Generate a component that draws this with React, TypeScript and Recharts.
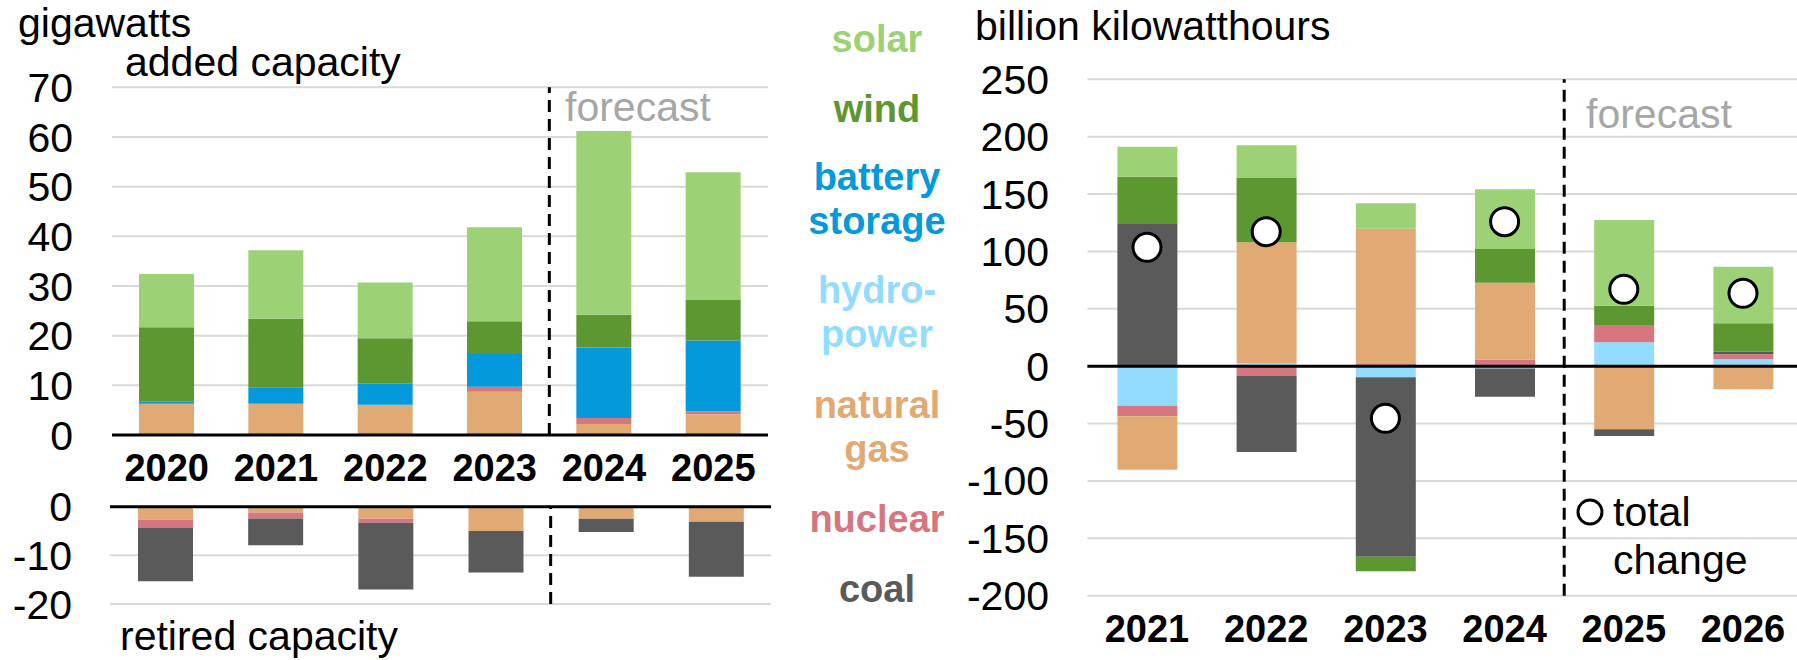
import React from 'react';
import { BarChart, Bar, XAxis, YAxis, CartesianGrid, ReferenceLine, ComposedChart, Line } from 'recharts';

// left panel: capacity, gigawatts
const capYears = ['2020', '2021', '2022', '2023', '2024', '2025'];
const gasAdded = [6.3, 6.3, 6.1, 8.7, 2.2, 4.2];
const nuclearAdded = [0, 0, 0, 1.0, 1.2, 0.6];
const batteryAdded = [0.5, 3.3, 4.2, 6.6, 14.2, 14.2];
const windAdded = [14.9, 13.8, 9.2, 6.6, 6.6, 8.2];
const solarAdded = [10.7, 13.8, 11.2, 18.9, 37.0, 25.7];

const gasRetired = [-2.7, -1.2, -2.5, -5.0, -2.5, -3.1];
const nuclearRetired = [-1.6, -1.2, -0.8, 0, 0, 0];
const coalRetired = [-11.0, -5.5, -13.7, -8.5, -2.7, -11.3];

const addedTicks = [0, 10, 20, 30, 40, 50, 60, 70];
const retiredTicks = [-20, -10, 0];

// right panel: generation, billion kWh
const genYears = ['2021', '2022', '2023', '2024', '2025', '2026'];
const hydroGen = [-34.4, 2.6, -9.6, -2.0, 20.8, 6.0];
const nuclearGen = [-9.3, -8.5, 2.6, 5.8, 14.5, 4.4];
const gasGen = [-46.5, 105.5, 117.2, 67.0, -55.0, -20.1];
const coalGen = [123.9, -66.3, -156.4, -24.6, -5.8, 2.2];
const windGen = [41.2, 55.8, -12.7, 29.3, 17.4, 24.8];
const solarGen = [26.2, 28.7, 22.1, 52.0, 74.7, 49.3];
const totalGen = [103.6, 117.2, -45.4, 125.9, 67.0, 63.5];

const genTicks = [-200, -150, -100, -50, 0, 50, 100, 150, 200, 250];

const C = {
  solar: '#9dd176',
  wind: '#5d9732',
  battery: '#0399da',
  hydro: '#93dcff',
  gas: '#e1aa74',
  nuclear: '#d6767f',
  coal: '#5a5a5a',
  grid: '#d9d9d9',
  forecast: '#a6a6a6',
};
const FONT = '"Liberation Sans", Arial, Helvetica, sans-serif';

const addedData = capYears.map((year, i) => ({
  year,
  gas: gasAdded[i],
  nuclear: nuclearAdded[i],
  battery: batteryAdded[i],
  wind: windAdded[i],
  solar: solarAdded[i],
}));

const retiredData = capYears.map((year, i) => ({
  year,
  gas: gasRetired[i],
  nuclear: nuclearRetired[i],
  coal: coalRetired[i],
}));

const genData = genYears.map((year, i) => ({
  year,
  hydro: hydroGen[i],
  nuclear: nuclearGen[i],
  gas: gasGen[i],
  coal: coalGen[i],
  wind: windGen[i],
  solar: solarGen[i],
  total: totalGen[i],
}));

const tickFont = { fontSize: 41, fill: '#000', fontFamily: FONT };
const yearFont = { fontSize: 38, fontWeight: 700, fill: '#000', fontFamily: FONT };

const legendItems = [
  { lines: ['solar'], color: C.solar, y: 52 },
  { lines: ['wind'], color: C.wind, y: 122 },
  { lines: ['battery', 'storage'], color: C.battery, y: 190 },
  { lines: ['hydro-', 'power'], color: C.hydro, y: 303 },
  { lines: ['natural', 'gas'], color: C.gas, y: 418 },
  { lines: ['nuclear'], color: C.nuclear, y: 532 },
  { lines: ['coal'], color: C.coal, y: 602 },
];

export default function App() {
  return (
    <div
      style={{
        position: 'absolute',
        left: 0,
        top: 0,
        width: 1797,
        height: 660,
        overflow: 'hidden',
        background: '#fff',
        fontFamily: FONT,
      }}
    >
      {/* added capacity */}
      <div style={{ position: 'absolute', left: 0, top: 0 }}>
        <BarChart
          width={800}
          height={500}
          data={addedData}
          stackOffset="sign"
          barSize={55}
          margin={{ top: 87.3, right: 32, bottom: 5, left: 0 }}
        >
          <CartesianGrid vertical={false} stroke={C.grid} strokeWidth={2} />
          <XAxis
            dataKey="year"
            height={60}
            axisLine={false}
            tickLine={false}
            tickSize={0}
            tickMargin={19}
            tick={yearFont}
            interval={0}
          />
          <YAxis
            width={112}
            domain={[0, 70]}
            ticks={addedTicks}
            interval={0}
            axisLine={false}
            tickLine={false}
            tickSize={0}
            tickMargin={39}
            tick={tickFont}
          />
          <Bar dataKey="gas" stackId="a" fill={C.gas} isAnimationActive={false} />
          <Bar dataKey="nuclear" stackId="a" fill={C.nuclear} isAnimationActive={false} />
          <Bar dataKey="battery" stackId="a" fill={C.battery} isAnimationActive={false} />
          <Bar dataKey="wind" stackId="a" fill={C.wind} isAnimationActive={false} />
          <Bar dataKey="solar" stackId="a" fill={C.solar} isAnimationActive={false} />
          <ReferenceLine y={0} stroke="#000" strokeWidth={3} />
          <ReferenceLine x="2024" position="start" stroke="#000" strokeWidth={3} strokeDasharray="12 7" />
        </BarChart>
      </div>

      {/* retired capacity */}
      <div style={{ position: 'absolute', left: 0, top: 480 }}>
        <BarChart
          width={800}
          height={150}
          data={retiredData}
          stackOffset="sign"
          barSize={55}
          margin={{ top: 26.7, right: 29, bottom: 26, left: 0 }}
        >
          <CartesianGrid vertical={false} stroke={C.grid} strokeWidth={2} />
          <XAxis dataKey="year" hide />
          <YAxis
            width={110}
            domain={[-20, 0]}
            ticks={retiredTicks}
            interval={0}
            axisLine={false}
            tickLine={false}
            tickSize={0}
            tickMargin={38}
            tick={tickFont}
          />
          <Bar dataKey="gas" stackId="r" fill={C.gas} isAnimationActive={false} />
          <Bar dataKey="nuclear" stackId="r" fill={C.nuclear} isAnimationActive={false} />
          <Bar dataKey="coal" stackId="r" fill={C.coal} isAnimationActive={false} />
          <ReferenceLine y={0} stroke="#000" strokeWidth={3} />
          <ReferenceLine x="2024" position="start" stroke="#000" strokeWidth={3} strokeDasharray="12 7" />
        </BarChart>
      </div>

      {/* generation change */}
      <div style={{ position: 'absolute', left: 960, top: 0 }}>
        <ComposedChart
          width={850}
          height={660}
          data={genData}
          stackOffset="sign"
          barSize={60}
          margin={{ top: 79.3, right: 7.4, bottom: 0, left: 0 }}
        >
          <CartesianGrid vertical={false} stroke={C.grid} strokeWidth={2} />
          <XAxis
            dataKey="year"
            height={64.3}
            axisLine={false}
            tickLine={false}
            tickSize={0}
            tickMargin={19.3}
            tick={yearFont}
            interval={0}
          />
          <YAxis
            width={127.4}
            domain={[-200, 250]}
            ticks={genTicks}
            interval={0}
            axisLine={false}
            tickLine={false}
            tickSize={0}
            tickMargin={38.4}
            tick={tickFont}
          />
          <Bar dataKey="hydro" stackId="g" fill={C.hydro} isAnimationActive={false} />
          <Bar dataKey="nuclear" stackId="g" fill={C.nuclear} isAnimationActive={false} />
          <Bar dataKey="gas" stackId="g" fill={C.gas} isAnimationActive={false} />
          <Bar dataKey="coal" stackId="g" fill={C.coal} isAnimationActive={false} />
          <Bar dataKey="wind" stackId="g" fill={C.wind} isAnimationActive={false} />
          <Bar dataKey="solar" stackId="g" fill={C.solar} isAnimationActive={false} />
          <ReferenceLine y={0} stroke="#000" strokeWidth={3} />
          <ReferenceLine x="2025" position="start" stroke="#000" strokeWidth={3} strokeDasharray="12 7" />
          <Line
            dataKey="total"
            stroke="none"
            isAnimationActive={false}
            activeDot={false}
            dot={{ r: 14, fill: '#fff', stroke: '#000', strokeWidth: 3 }}
          />
        </ComposedChart>
      </div>

      {/* labels and legend */}
      <svg
        width={1797}
        height={660}
        style={{ position: 'absolute', left: 0, top: 0, pointerEvents: 'none' }}
        fontFamily={FONT}
      >
        <text x={18} y={37} fontSize={41} fill="#000">gigawatts</text>
        <text x={125} y={76} fontSize={41} fill="#000">added capacity</text>
        <text x={120} y={650} fontSize={41} fill="#000">retired capacity</text>
        <text x={565} y={121} fontSize={41} fill={C.forecast}>forecast</text>

        <text x={975} y={40} fontSize={41} fill="#000">billion kilowatthours</text>
        <text x={1586} y={128} fontSize={41} fill={C.forecast}>forecast</text>

        {legendItems.map((item) =>
          item.lines.map((line, j) => (
            <text
              key={line}
              x={877}
              y={item.y + j * 44}
              fontSize={38}
              fontWeight={700}
              textAnchor="middle"
              fill={item.color}
            >
              {line}
            </text>
          ))
        )}

        <circle cx={1590} cy={512} r={12} fill="#fff" stroke="#000" strokeWidth={3} />
        <text x={1613} y={526} fontSize={41} fill="#000">total</text>
        <text x={1613} y={574} fontSize={41} fill="#000">change</text>
      </svg>
    </div>
  );
}
